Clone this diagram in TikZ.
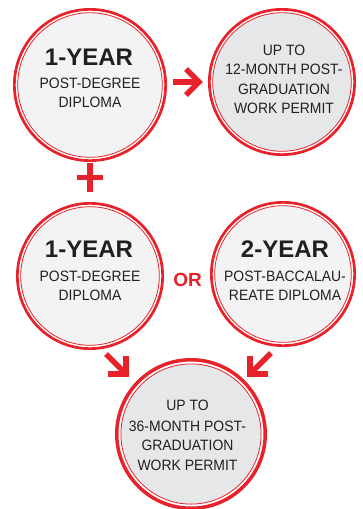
\documentclass[tikz,border=0pt]{standalone}
\usepackage{fontspec}
\setmainfont{Liberation Sans}
\newfontfamily\narrowfont[FakeStretch=0.93]{Liberation Sans}
\definecolor{rd}{HTML}{E8222A}
\definecolor{ink}{HTML}{231F20}
\definecolor{lightfill}{HTML}{F3F3F3}
\definecolor{darkfill}{HTML}{E6E7E8}
\tikzset{
  ring/.style={circle, draw=rd, line width=0.8pt, inner sep=0pt, outer sep=0pt, minimum size=#1},
  thick ring/.style={draw=rd, line width=#1},
  txt/.style={anchor=base, inner sep=0pt, text=ink, font=\narrowfont\fontsize{15}{15}\selectfont},
  big/.style={anchor=base, inner sep=0pt, text=ink, font=\fontsize{24}{24}\selectfont\bfseries},
  arr/.style={draw=rd, line width=5.5pt, line join=miter, line cap=butt},
}
\begin{document}
\begin{tikzpicture}[x=1pt,y=-1pt]
\useasboundingbox (0,0) rectangle (363,509);
% circles
\node[ring=144.6pt, fill=lightfill] (c1) at (90,85) {};
\draw[thick ring=2.7pt] (c1.center) circle (75.65pt);
\node[ring=138.6pt, fill=darkfill] (c2) at (282,82) {};
\draw[thick ring=2.7pt] (c2.center) circle (72.65pt);
\node[ring=138.6pt, fill=lightfill] (c3) at (90,276) {};
\draw[thick ring=2.7pt] (c3.center) circle (72.65pt);
\node[ring=136.6pt, fill=lightfill] (c4) at (283,274) {};
\draw[thick ring=2.7pt] (c4.center) circle (71.65pt);
\node[ring=140.2pt, fill=darkfill] (c5) at (191,434) {};
\draw[thick ring=3.5pt] (c5.center) circle (74.25pt);
% texts circle 1
\node[big] (t1a) at (89,65) {1-YEAR};
\node[txt] (t1b) at (90,88) {POST-DEGREE};
\node[txt] (t1c) at (90,107) {DIPLOMA};
% circle 2
\node[txt] (t2a) at (284,55) {UP TO};
\node[txt] (t2b) at (284,74) {12-MONTH POST-};
\node[txt] (t2c) at (284,94) {GRADUATION};
\node[txt] (t2d) at (284,113) {WORK PERMIT};
% circle 3
\node[big] (t3a) at (89,257) {1-YEAR};
\node[txt] (t3b) at (90,281) {POST-DEGREE};
\node[txt] (t3c) at (90,300) {DIPLOMA};
% circle 4
\node[big] (t4a) at (285,257) {2-YEAR};
\node[txt] (t4b) at (285,281) {POST-BACCALAU-};
\node[txt] (t4c) at (285,300) {REATE DIPLOMA};
% circle 5
\node[txt] (t5a) at (187.5,410) {UP TO};
\node[txt] (t5b) at (187.5,431) {36-MONTH POST-};
\node[txt] (t5c) at (187.5,450) {GRADUATION};
\node[txt] (t5d) at (187.5,470) {WORK PERMIT};
% OR
\node[anchor=base, inner sep=0pt, text=rd, font=\fontsize{19}{19}\selectfont\bfseries] (or) at (187.5,286) {OR};
% right arrow
\coordinate (a1s) at (173,82);
\coordinate (a1t) at (199,82);
\draw[arr] (a1s) -- (a1t);
\draw[arr] ([shift={(-13,-13)}]a1t) -- (a1t) -- ([shift={(-13,13)}]a1t);
% plus
\coordinate (pl) at (90,177.5);
\draw[arr] ([xshift=-13pt]pl) -- ([xshift=13pt]pl);
\draw[arr] ([yshift=14.5pt]pl) -- ([yshift=-14.5pt]pl);
% SE arrow
\coordinate (a2s) at (106,354);
\coordinate (a2t) at (126,374);
\draw[arr] (a2s) -- (a2t);
\draw[arr] ([shift={(-18,0)}]a2t) -- (a2t) -- ([shift={(0,-18)}]a2t);
% SW arrow
\coordinate (a3s) at (271,353);
\coordinate (a3t) at (250,374);
\draw[arr] (a3s) -- (a3t);
\draw[arr] ([shift={(18,0)}]a3t) -- (a3t) -- ([shift={(0,-18)}]a3t);
\end{tikzpicture}
\end{document}
